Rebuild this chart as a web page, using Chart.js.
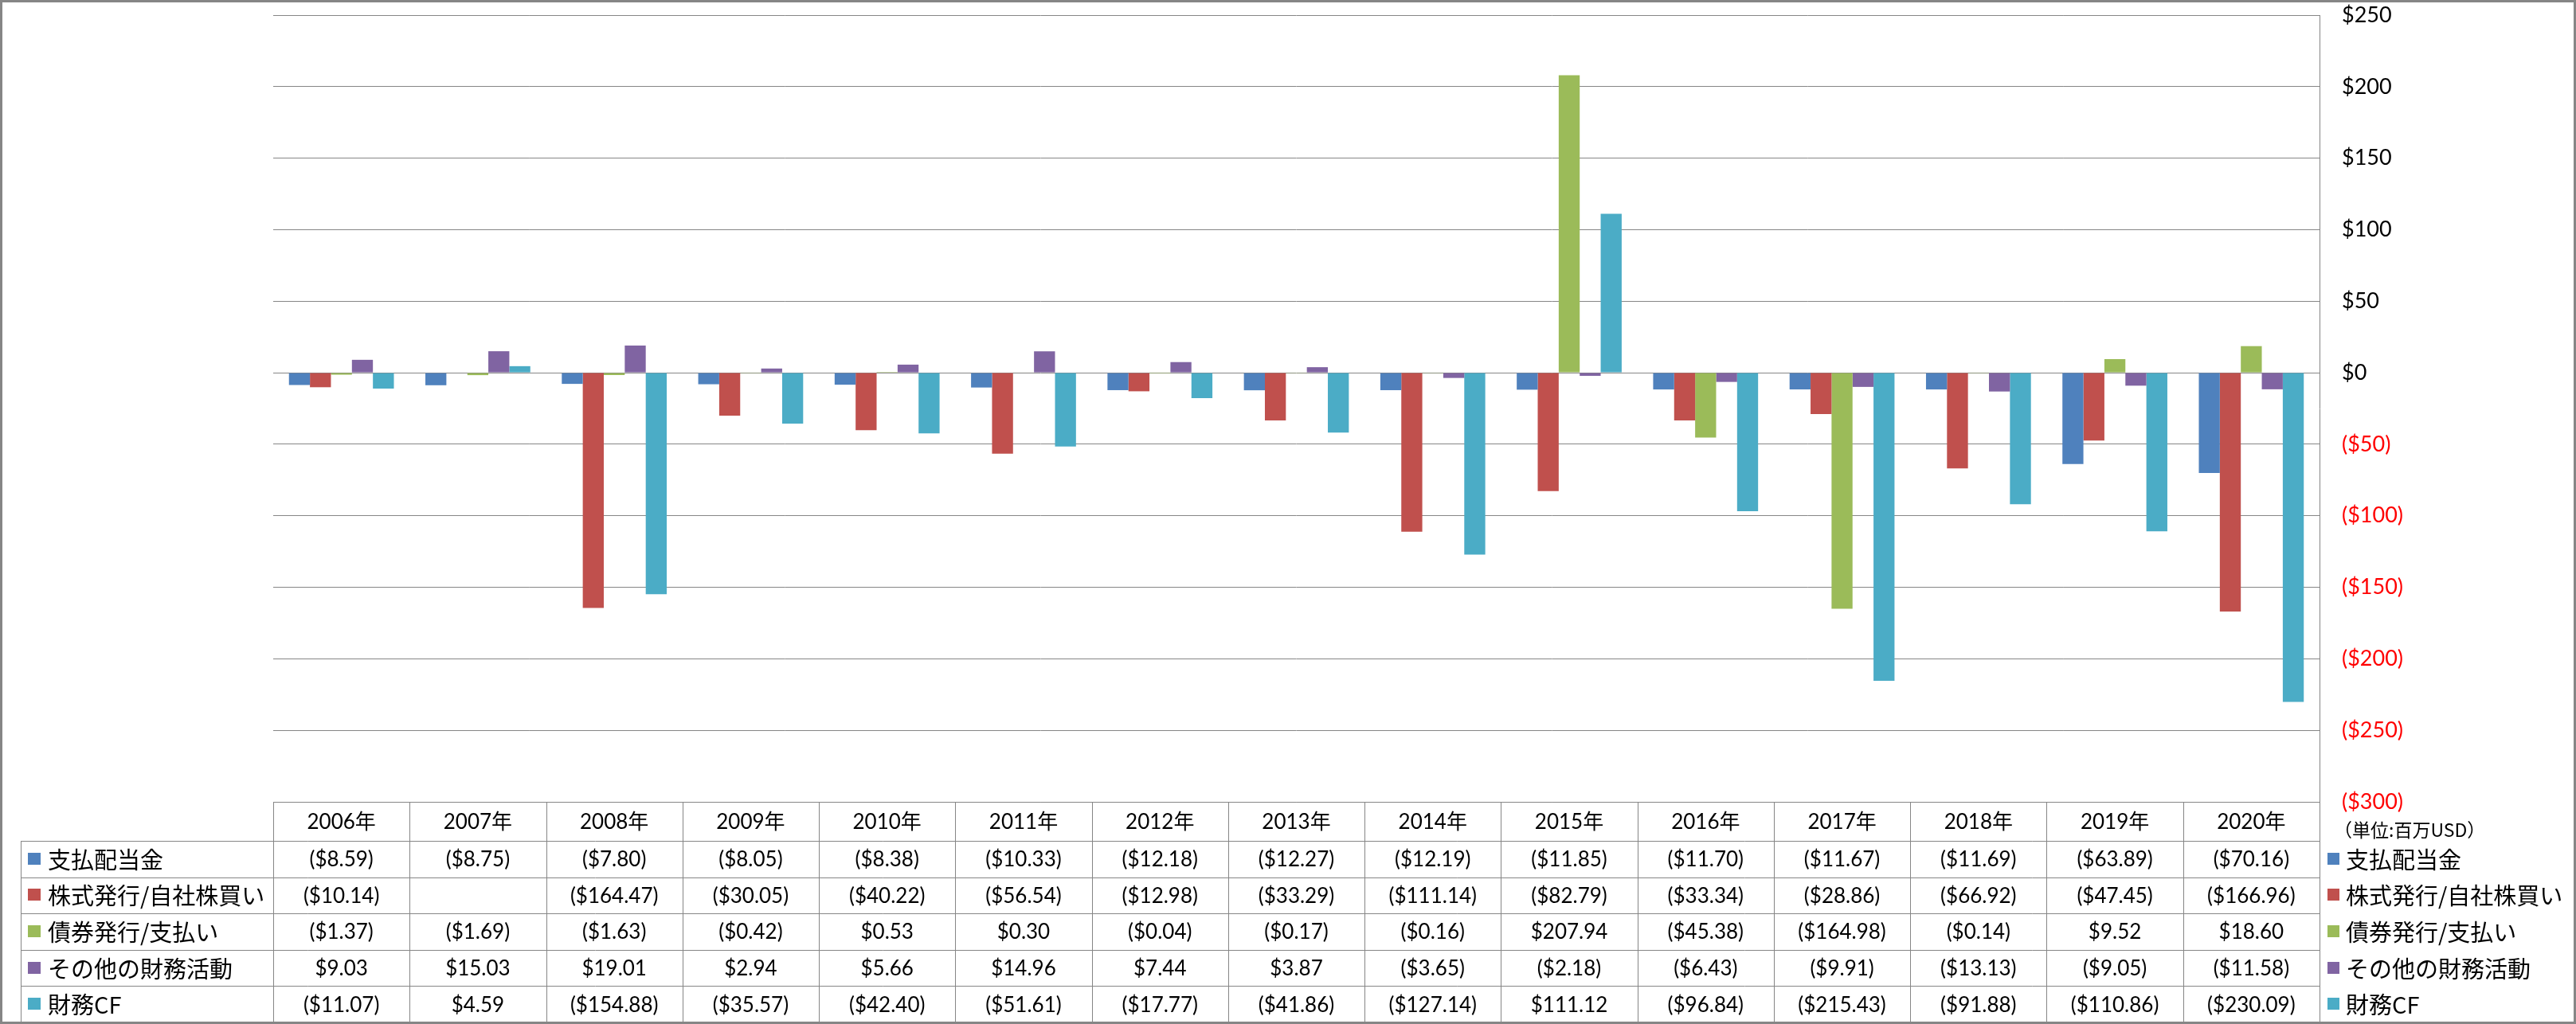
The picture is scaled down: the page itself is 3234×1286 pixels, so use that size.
<!DOCTYPE html>
<html lang="ja">
<head>
  <meta charset="UTF-8">
  <title>財務CF</title>
  <script src="https://cdn.jsdelivr.net/npm/chart.js"></script>
  <style>
    body {
      margin: 0;
      background: #fff;
    }
  </style>
</head>
<body>
  <canvas id="chart" width="3234" height="1286"></canvas>

  <script>
    // data (millions USD)
    const years = ['2006年', '2007年', '2008年', '2009年', '2010年', '2011年', '2012年', '2013年',
                   '2014年', '2015年', '2016年', '2017年', '2018年', '2019年', '2020年'];
    const seriesNames = ['支払配当金', '株式発行/自社株買い', '債券発行/支払い', 'その他の財務活動', '財務CF'];
    const dividends = [-8.59, -8.75, -7.80, -8.05, -8.38, -10.33, -12.18, -12.27, -12.19, -11.85, -11.70, -11.67, -11.69, -63.89, -70.16];
    const buybacks = [-10.14, null, -164.47, -30.05, -40.22, -56.54, -12.98, -33.29, -111.14, -82.79, -33.34, -28.86, -66.92, -47.45, -166.96];
    const bonds = [-1.37, -1.69, -1.63, -0.42, 0.53, 0.30, -0.04, -0.17, -0.16, 207.94, -45.38, -164.98, -0.14, 9.52, 18.60];
    const other = [9.03, 15.03, 19.01, 2.94, 5.66, 14.96, 7.44, 3.87, -3.65, -2.18, -6.43, -9.91, -13.13, -9.05, -11.58];
    const financingCF = [-11.07, 4.59, -154.88, -35.57, -42.40, -51.61, -17.77, -41.86, -127.14, 111.12, -96.84, -215.43, -91.88, -110.86, -230.09];
    const yTicks = { min: -300, max: 250, step: 50 };
    const unitLabel = '（単位:百万USD）';

    const colors = ['#4F81BD', '#C0504D', '#9BBB59', '#8064A2', '#4BACC6'];
    const lineColor = '#868686';
    const numFont = 'Lato, "Noto Sans CJK JP", sans-serif';
    const jpFont = '"Noto Sans CJK JP", sans-serif';

    const allSeries = [dividends, buybacks, bonds, other, financingCF];

    function money(v) {
      if (v === null || v === undefined) return '';
      return v < 0 ? '($' + Math.abs(v).toFixed(2) + ')' : '$' + v.toFixed(2);
    }

    // white background
    const background = {
      id: 'background',
      beforeDraw(chart) {
        const c = chart.ctx;
        c.save();
        c.fillStyle = '#fff';
        c.fillRect(0, 0, chart.width, chart.height);
        c.restore();
      }
    };

    // data table under the plot, columns taken from the x scale
    const dataTable = {
      id: 'dataTable',
      afterDraw(chart) {
        const c = chart.ctx;
        const area = chart.chartArea;
        const x = chart.scales.x;
        const colW = area.width / years.length;
        const headTop = area.bottom;
        const headH = 49;
        const rowH = 45.6;
        const labelLeft = 26;

        c.save();
        c.strokeStyle = lineColor;
        c.lineWidth = 1;

        // horizontal lines
        c.beginPath();
        c.moveTo(area.left, headTop + 0.5);
        c.lineTo(area.right, headTop + 0.5);
        for (let r = 0; r <= seriesNames.length; r++) {
          const y = Math.round(headTop + headH + r * rowH) + 0.5;
          c.moveTo(labelLeft, y);
          c.lineTo(area.right, y);
        }
        // vertical lines
        const bottom = headTop + headH + seriesNames.length * rowH;
        for (let i = 0; i <= years.length; i++) {
          const xx = Math.round(area.left + i * colW) + 0.5;
          c.moveTo(xx, headTop);
          c.lineTo(xx, bottom);
        }
        c.moveTo(labelLeft + 0.5, headTop + headH);
        c.lineTo(labelLeft + 0.5, bottom);
        c.stroke();

        c.fillStyle = '#000';
        c.textAlign = 'center';
        c.textBaseline = 'middle';

        // header
        c.font = '26px ' + numFont;
        years.forEach((yr, i) => {
          c.fillText(yr, x.getPixelForValue(i), headTop + headH / 2 + 1);
        });

        // rows
        seriesNames.forEach((name, r) => {
          const cy = headTop + headH + r * rowH + rowH / 2;
          c.font = '26px ' + numFont;
          c.textAlign = 'center';
          c.fillStyle = '#000';
          allSeries[r].forEach((v, i) => {
            c.fillText(money(v), x.getPixelForValue(i), cy + 1);
          });

          // left legend cell
          c.fillStyle = colors[r];
          c.fillRect(35, Math.round(cy - 8), 16, 15);
          c.fillStyle = '#000';
          c.textAlign = 'left';
          c.font = '29px ' + jpFont;
          c.fillText(name, 60, cy + 1);

          // right legend
          c.fillStyle = colors[r];
          c.fillRect(area.right + 10, Math.round(cy - 8), 15, 15);
          c.fillStyle = '#000';
          c.fillText(name, area.right + 33, cy + 1);
        });

        // unit note
        c.font = '23px ' + jpFont;
        c.textAlign = 'left';
        c.fillText(unitLabel, area.right + 18, headTop + 35);

        // outer frame
        c.strokeStyle = lineColor;
        c.lineWidth = 3;
        c.strokeRect(1.5, 1.5, chart.width - 3, 1283);
        c.restore();
      }
    };

    new Chart(document.getElementById('chart'), {
      type: 'bar',
      data: {
        labels: years,
        datasets: seriesNames.map((name, i) => ({
          label: name,
          data: allSeries[i],
          backgroundColor: colors[i],
          borderWidth: 0,
          categoryPercentage: 5 / 6.5,
          barPercentage: 1
        }))
      },
      options: {
        responsive: false,
        animation: false,
        layout: {
          padding: { left: 343, top: 19, right: 0, bottom: 279 }
        },
        plugins: {
          legend: { display: false },
          tooltip: { enabled: false }
        },
        scales: {
          x: {
            display: false
          },
          y: {
            position: 'right',
            min: yTicks.min,
            max: yTicks.max,
            afterFit(scale) {
              // fixed axis width, and don't let the tick padding push the plot down
              scale.width = 322;
              scale.paddingTop = 0;
              scale.paddingBottom = 0;
            },
            ticks: {
              stepSize: yTicks.step,
              padding: 28,
              font: { size: 27, family: numFont },
              color: ctx => ctx.tick.value < 0 ? '#FF0000' : '#000',
              callback: v => v < 0 ? '($' + Math.abs(v) + ')' : '$' + v
            },
            grid: {
              color: lineColor,
              lineWidth: 1,
              drawTicks: false
            },
            border: {
              display: true,
              color: lineColor,
              width: 1
            }
          }
        }
      },
      plugins: [background, dataTable]
    });
  </script>
</body>
</html>
